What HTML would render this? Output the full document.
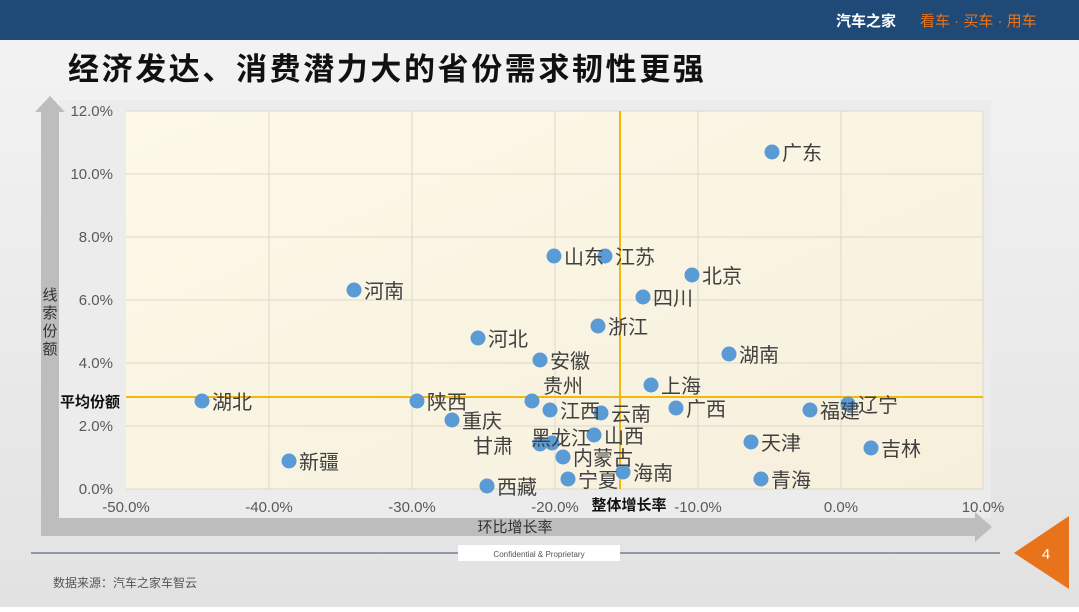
<!DOCTYPE html>
<html><head><meta charset="utf-8"><style>
body{margin:0;width:1079px;height:607px;overflow:hidden;font-family:"Liberation Sans","Noto Sans CJK SC",sans-serif;}
</style></head><body>
<svg width="1079" height="607" xmlns="http://www.w3.org/2000/svg" font-family="Liberation Sans, Noto Sans CJK SC, sans-serif">
<defs>
<linearGradient id="bg" x1="0" y1="0" x2="0" y2="1"><stop offset="0" stop-color="#f4f4f4"/><stop offset="1" stop-color="#e2e2e2"/></linearGradient>
<linearGradient id="pl" x1="0" y1="0" x2="1" y2="1"><stop offset="0" stop-color="#fdf8e8"/><stop offset="1" stop-color="#f6efdc"/></linearGradient>
</defs>
<rect width="1079" height="607" fill="url(#bg)"/>
<rect width="1079" height="40" fill="#1f4a77"/>
<text x="836" y="26" font-size="15" font-weight="bold" fill="#fff">汽车之家</text>
<text x="920" y="26" font-size="15" fill="#e8731a" xml:space="preserve">看车 · 买车 · 用车</text>
<text x="68" y="80" font-size="31" font-weight="bold" fill="#111" letter-spacing="2.6">经济发达、消费潜力大的省份需求韧性更强</text>
<rect x="59" y="100" width="932" height="418" fill="#ececec"/>
<polygon points="41,536 41,112 35,112 50,96 65,112 59,112 59,518 975,518 975,512 992,527 975,542 975,536" fill="#bdbdbd"/>
<rect x="126" y="111" width="857" height="378" fill="url(#pl)"/>
<g stroke="#ddd8c8" stroke-width="1">
<line x1="269" y1="111" x2="269" y2="489"/><line x1="412" y1="111" x2="412" y2="489"/><line x1="555" y1="111" x2="555" y2="489"/><line x1="698" y1="111" x2="698" y2="489"/><line x1="841" y1="111" x2="841" y2="489"/><line x1="983" y1="111" x2="983" y2="489"/>
<line x1="126" y1="174" x2="983" y2="174"/><line x1="126" y1="237" x2="983" y2="237"/><line x1="126" y1="300" x2="983" y2="300"/><line x1="126" y1="363" x2="983" y2="363"/><line x1="126" y1="426" x2="983" y2="426"/><line x1="126" y1="489" x2="983" y2="489"/><line x1="126" y1="111" x2="983" y2="111"/>
</g>
<line x1="126" y1="397" x2="983" y2="397" stroke="#f2b80e" stroke-width="2"/>
<line x1="620" y1="111" x2="620" y2="489" stroke="#f2b80e" stroke-width="2"/>
<g font-size="15" fill="#595959" text-anchor="end">
<text x="113" y="116">12.0%</text><text x="113" y="179">10.0%</text><text x="113" y="242">8.0%</text><text x="113" y="305">6.0%</text><text x="113" y="368">4.0%</text><text x="113" y="431">2.0%</text><text x="113" y="494">0.0%</text>
</g>
<g font-size="15" fill="#595959" text-anchor="middle">
<text x="126" y="512">-50.0%</text><text x="269" y="512">-40.0%</text><text x="412" y="512">-30.0%</text><text x="555" y="512">-20.0%</text><text x="698" y="512">-10.0%</text><text x="841" y="512">0.0%</text><text x="983" y="512">10.0%</text>
</g>
<text x="60" y="407" font-size="15" font-weight="bold" fill="#111">平均份额</text>
<text x="629" y="510" font-size="15" font-weight="bold" fill="#111" text-anchor="middle">整体增长率</text>
<text x="515" y="532" font-size="15" fill="#333" text-anchor="middle">环比增长率</text>
<g font-size="15" fill="#333" text-anchor="middle"><text x="50" y="300">线</text><text x="50" y="318">索</text><text x="50" y="336">份</text><text x="50" y="354">额</text></g>
<g fill="#5b9bd5">
<circle cx="772" cy="152" r="7.5"/><circle cx="554" cy="256" r="7.5"/><circle cx="605" cy="256" r="7.5"/><circle cx="692" cy="275" r="7.5"/><circle cx="354" cy="290" r="7.5"/><circle cx="643" cy="297" r="7.5"/><circle cx="598" cy="326" r="7.5"/><circle cx="478" cy="338" r="7.5"/><circle cx="540" cy="360" r="7.5"/><circle cx="729" cy="354" r="7.5"/><circle cx="651" cy="385" r="7.5"/><circle cx="532" cy="401" r="7.5"/><circle cx="202" cy="401" r="7.5"/><circle cx="417" cy="401" r="7.5"/><circle cx="848" cy="404" r="7.5"/><circle cx="550" cy="410" r="7.5"/><circle cx="601" cy="413" r="7.5"/><circle cx="676" cy="408" r="7.5"/><circle cx="810" cy="410" r="7.5"/><circle cx="452" cy="420" r="7.5"/><circle cx="552" cy="443" r="7.5"/><circle cx="540" cy="444" r="7.5"/><circle cx="594" cy="435" r="7.5"/><circle cx="751" cy="442" r="7.5"/><circle cx="871" cy="448" r="7.5"/><circle cx="289" cy="461" r="7.5"/><circle cx="563" cy="457" r="7.5"/><circle cx="623" cy="472" r="7.5"/><circle cx="568" cy="479" r="7.5"/><circle cx="761" cy="479" r="7.5"/><circle cx="487" cy="486" r="7.5"/>
</g>
<g font-size="20" fill="#404040">
<text x="782" y="160">广东</text><text x="564" y="264">山东</text><text x="615" y="264">江苏</text><text x="702" y="283">北京</text><text x="364" y="298">河南</text><text x="653" y="305">四川</text><text x="608" y="334">浙江</text><text x="488" y="346">河北</text><text x="550" y="368">安徽</text><text x="739" y="362">湖南</text><text x="661" y="393">上海</text><text x="543" y="393">贵州</text><text x="212" y="409">湖北</text><text x="427" y="409">陕西</text><text x="858" y="412">辽宁</text><text x="560" y="418">江西</text><text x="611" y="421">云南</text><text x="686" y="416">广西</text><text x="820" y="418">福建</text><text x="462" y="428">重庆</text><text x="531" y="445">黑龙江</text><text x="473" y="453">甘肃</text><text x="604" y="443">山西</text><text x="761" y="450">天津</text><text x="881" y="456">吉林</text><text x="299" y="469">新疆</text><text x="573" y="465">内蒙古</text><text x="633" y="480">海南</text><text x="578" y="487">宁夏</text><text x="771" y="487">青海</text><text x="497" y="494">西藏</text>
</g>
<line x1="31" y1="553" x2="1000" y2="553" stroke="#3c4f6e" stroke-width="1"/>
<rect x="458" y="545" width="162" height="16" fill="#fff"/>
<text x="539" y="557" font-size="8" fill="#555" text-anchor="middle">Confidential &amp; Proprietary</text>
<text x="53" y="587" font-size="12" fill="#555">数据来源：汽车之家车智云</text>
<polygon points="1014,553 1069,516 1069,589" fill="#e8731a"/>
<text x="1046" y="559" font-size="15" fill="#fff" text-anchor="middle">4</text>
</svg>
</body></html>
